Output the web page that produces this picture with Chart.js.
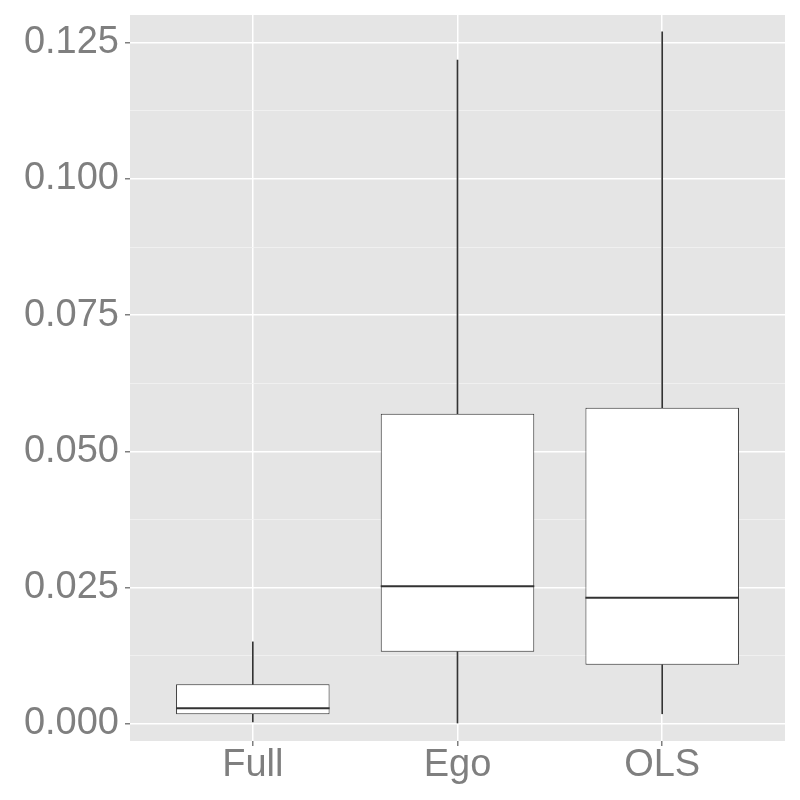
<!DOCTYPE html>
<html>
<head>
<meta charset="utf-8">
<script src="https://cdn.jsdelivr.net/npm/chart.js@4/dist/chart.umd.min.js"></script>
<style>
html,body{margin:0;padding:0;background:#fff;}
#wrap{width:800px;height:800px;}
</style>
</head>
<body>
<div id="wrap"><canvas id="c" width="800" height="800"></canvas></div>
<script>
const categories = ['Full', 'Ego', 'OLS'];
const whiskerLow  = [0.0003, 0.0001, 0.0018];
const q1          = [0.0017, 0.0132, 0.0108];
const median      = [0.0028, 0.0252, 0.0231];
const q3          = [0.0072, 0.0569, 0.0580];
const whiskerHigh = [0.0150, 0.1218, 0.1270];
const yMajorTicks = [0.000, 0.025, 0.050, 0.075, 0.100, 0.125];
const yMinorTicks = [0.0125, 0.0375, 0.0625, 0.0875, 0.1125];
const xPositions  = [1, 2, 3];

const grey50 = '#7F7F7F';
const boxLine = '#333333';

const boxData = categories.map((c, i) => ({x: xPositions[i], y: [q1[i], q3[i]]}));
const upperWhisker = categories.map((c, i) => ({x: xPositions[i], y: [q3[i], whiskerHigh[i]]}));
const lowerWhisker = categories.map((c, i) => ({x: xPositions[i], y: [whiskerLow[i], q1[i]]}));

const panelBg = {
  id: 'panelBg',
  beforeDraw(chart) {
    const {ctx, chartArea: a} = chart;
    ctx.save();
    ctx.fillStyle = '#E5E5E5';
    ctx.fillRect(a.left, a.top, a.right - a.left, a.bottom - a.top);
    ctx.restore();
  }
};

const medianLines = {
  id: 'medianLines',
  afterDatasetsDraw(chart) {
    const ctx = chart.ctx;
    const meta = chart.getDatasetMeta(2);
    const xs = chart.scales.x, ys = chart.scales.y;
    ctx.save();
    ctx.strokeStyle = boxLine;
    ctx.lineWidth = 2;
    median.forEach((m, i) => {
      const el = meta.data[i];
      const cx = xs.getPixelForValue(xPositions[i]);
      const hw = el.width / 2;
      const py = ys.getPixelForValue(m);
      ctx.beginPath();
      ctx.moveTo(cx - hw, py);
      ctx.lineTo(cx + hw, py);
      ctx.stroke();
    });
    ctx.restore();
  }
};

const allY = yMajorTicks.concat(yMinorTicks).sort((a, b) => a - b);
const isMajor = v => yMajorTicks.some(t => Math.abs(t - v) < 1e-9);

new Chart(document.getElementById('c'), {
  type: 'bar',
  data: {
    datasets: [
      {data: upperWhisker, backgroundColor: boxLine, borderWidth: 0, barThickness: 1, grouped: false, order: 3},
      {data: lowerWhisker, backgroundColor: boxLine, borderWidth: 0, barThickness: 1, grouped: false, order: 2},
      {data: boxData, backgroundColor: '#FFFFFF', borderColor: boxLine, borderWidth: 1, borderSkipped: false,
       categoryPercentage: 1, barPercentage: 0.75, grouped: false, order: 1}
    ]
  },
  options: {
    responsive: false,
    animation: false,
    layout: {padding: {left: 0, top: 15, right: 15, bottom: 0}},
    plugins: {legend: {display: false}, tooltip: {enabled: false}},
    scales: {
      x: {
        type: 'linear',
        min: 0.4,
        max: 3.6,
        offset: false,
        afterBuildTicks(s) { s.ticks = xPositions.map(v => ({value: v})); },
        afterFit(s) { s.height = 59; s.paddingLeft = 0; s.paddingRight = 0; },
        border: {display: false},
        grid: {offset: false, color: '#FFFFFF', lineWidth: 1.5, tickColor: grey50, tickLength: 5, drawTicks: true},
        ticks: {
          color: grey50,
          font: {family: 'Liberation Sans', size: 38},
          padding: -3,
          autoSkip: false,
          maxRotation: 0,
          callback: (v) => categories[xPositions.indexOf(v)] ?? ''
        }
      },
      y: {
        type: 'linear',
        min: -0.0032,
        max: 0.1301,
        afterBuildTicks(s) { s.ticks = allY.map(v => ({value: v})); },
        afterFit(s) { s.width = 130; s.paddingTop = 0; s.paddingBottom = 0; },
        border: {display: false},
        grid: {
          color: (c) => isMajor(c.tick.value) ? '#FFFFFF' : '#F2F2F2',
          lineWidth: (c) => isMajor(c.tick.value) ? 1.5 : 0.8,
          tickColor: (c) => isMajor(c.tick.value) ? grey50 : 'rgba(0,0,0,0)',
          tickLength: 5
        },
        ticks: {
          color: grey50,
          font: {family: 'Liberation Sans', size: 38},
          padding: 6,
          autoSkip: false,
          callback: (v) => isMajor(v) ? v.toFixed(3) : ''
        }
      }
    }
  },
  plugins: [panelBg, medianLines]
});
</script>
</body>
</html>
